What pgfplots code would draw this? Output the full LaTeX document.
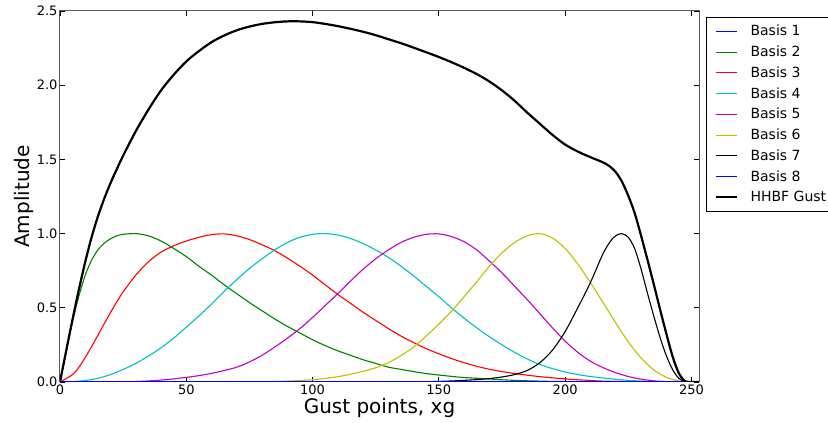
\documentclass[border=0pt]{standalone}
\usepackage{pgfplots}
\pgfplotsset{compat=1.18}
\usepackage{fontspec}
\setmainfont{DejaVu Sans}
\definecolor{cblue}{rgb}{0,0,1}
\definecolor{cgreen}{rgb}{0,0.5,0}
\definecolor{cred}{rgb}{1,0,0}
\definecolor{ccyan}{rgb}{0,0.75,0.75}
\definecolor{cmag}{rgb}{0.75,0,0.75}
\definecolor{cyel}{rgb}{0.75,0.75,0}
\begin{document}
\begin{tikzpicture}[x=1pt,y=1pt]
\path[use as bounding box] (0,0) rectangle (828,423);
\begin{axis}[
  at={(60pt,41pt)}, anchor=south west,
  scale only axis, width=639pt, height=371pt,
  xmin=0, xmax=253, ymin=0, ymax=2.5,
  xtick={0,50,100,150,200,250},
  ytick={0,0.5,1,1.5,2,2.5},
  tick align=inside, xtick pos=both, ytick pos=both,
  major tick length=5pt,
  tick style={black, line width=0.8pt},
  axis line style={black!65, line width=1pt},
  /pgf/number format/assume math mode=true,
  tick label style={font=\fontsize{13}{15}\selectfont},
  xticklabel style={yshift=1pt},
  yticklabel style={/pgf/number format/fixed, /pgf/number format/fixed zerofill, /pgf/number format/precision=1, xshift=1pt},
  xlabel={Gust points, xg}, ylabel={Amplitude},
  xlabel style={font=\fontsize{20}{24}\selectfont, at={(axis description cs:0.5,0)}, anchor=base, yshift=-32pt},
  ylabel style={font=\fontsize{20}{24}\selectfont, at={(axis description cs:-0.047,0.5)}, anchor=base},
  legend style={at={(1.011,0.984)}, anchor=north west, font=\fontsize{14}{17}\selectfont,
    draw=black, line width=0.8pt, inner xsep=8pt, inner ysep=6pt, row sep=4.6pt},
  legend cell align=left,
  legend image code/.code={\path[draw=none,fill=none] (0pt,-3pt) rectangle (33pt,3pt); \draw[#1] (0pt,0pt) -- (21pt,0pt);},
  every axis plot/.append style={line width=1.1pt},
]
\addplot[cblue] coordinates {(0,0)(253,0)};
\addplot[cgreen, smooth] coordinates {(0,0)(2.5,0.21)(5,0.41)(7.5,0.58)(10,0.72)(12.5,0.82)(15,0.89)(17.5,0.935)(20,0.965)(22.5,0.985)(25,0.995)(30,1.0)(35,0.985)(40,0.95)(45,0.90)(50,0.845)(55,0.78)(60,0.72)(65,0.655)(70,0.595)(75,0.535)(80,0.48)(85,0.425)(90,0.375)(95,0.33)(100,0.285)(105,0.245)(110,0.21)(115,0.18)(120,0.15)(125,0.125)(130,0.10)(135,0.085)(140,0.07)(145,0.057)(150,0.047)(155,0.038)(160,0.03)(165,0.025)(170,0.02)(175,0.015)(180,0.011)(185,0.008)(190,0.006)(195,0.004)(200,0.003)(210,0.001)(220,0)(253,0)};
\addplot[cred, smooth] coordinates {(0,0)(5,0.05)(7.5,0.10)(10,0.165)(12.5,0.238)(15,0.315)(17.5,0.392)(20,0.468)(22.5,0.54)(25,0.607)(30,0.72)(35,0.81)(40,0.875)(45,0.918)(50,0.95)(55,0.975)(60,0.993)(65,0.998)(70,0.985)(75,0.96)(80,0.925)(85,0.885)(90,0.835)(95,0.78)(100,0.72)(105,0.655)(110,0.59)(115,0.53)(120,0.47)(125,0.415)(130,0.36)(135,0.31)(140,0.265)(145,0.225)(150,0.19)(155,0.158)(160,0.13)(165,0.106)(170,0.086)(175,0.07)(180,0.057)(185,0.046)(190,0.036)(195,0.028)(200,0.021)(205,0.015)(210,0.01)(215,0.006)(220,0.004)(230,0.001)(240,0)(253,0)};
\addplot[ccyan, smooth] coordinates {(0,0)(5,0.002)(10,0.01)(15,0.025)(20,0.05)(25,0.085)(30,0.125)(35,0.175)(40,0.23)(45,0.295)(50,0.37)(55,0.445)(60,0.525)(65,0.61)(70,0.69)(75,0.765)(80,0.83)(85,0.89)(90,0.94)(95,0.975)(100,0.995)(105,1.0)(110,0.99)(115,0.967)(120,0.933)(125,0.89)(130,0.84)(135,0.78)(140,0.715)(145,0.645)(150,0.575)(155,0.50)(160,0.43)(165,0.365)(170,0.305)(175,0.25)(180,0.20)(185,0.155)(190,0.118)(195,0.09)(200,0.067)(205,0.05)(210,0.037)(215,0.027)(220,0.018)(225,0.011)(230,0.006)(235,0.003)(240,0.001)(245,0)(253,0)};
\addplot[cmag, smooth] coordinates {(0,0)(25,0.001)(30,0.003)(35,0.007)(40,0.013)(45,0.021)(50,0.031)(55,0.043)(60,0.058)(65,0.077)(70,0.10)(75,0.135)(80,0.18)(85,0.235)(90,0.295)(95,0.36)(100,0.435)(105,0.515)(110,0.595)(115,0.68)(120,0.76)(125,0.83)(130,0.89)(135,0.94)(140,0.975)(145,0.995)(150,0.998)(155,0.98)(160,0.945)(165,0.89)(170,0.815)(175,0.735)(180,0.645)(185,0.555)(190,0.46)(195,0.365)(200,0.275)(205,0.20)(210,0.14)(215,0.097)(220,0.063)(225,0.037)(230,0.019)(235,0.008)(240,0.002)(245,0)(253,0)};
\addplot[cyel, smooth] coordinates {(0,0)(75,0)(80,0.001)(85,0.003)(90,0.006)(95,0.01)(100,0.015)(105,0.024)(110,0.036)(115,0.052)(120,0.072)(125,0.096)(130,0.13)(135,0.178)(140,0.235)(145,0.31)(150,0.39)(155,0.477)(160,0.575)(165,0.675)(170,0.78)(175,0.87)(180,0.94)(185,0.985)(190,1.0)(195,0.97)(200,0.90)(205,0.795)(210,0.67)(215,0.535)(220,0.40)(225,0.27)(230,0.163)(235,0.083)(240,0.032)(245,0.007)(250,0)(253,0)};
\addplot[black, smooth] coordinates {(0,0)(140,0)(145,0.002)(150,0.004)(155,0.007)(160,0.011)(165,0.016)(170,0.023)(175,0.034)(180,0.05)(185,0.078)(190,0.13)(195,0.215)(200,0.34)(205,0.50)(210,0.67)(215,0.865)(218,0.95)(220,0.985)(222.4,1.0)(225,0.975)(227.5,0.90)(230,0.765)(232.5,0.605)(235,0.45)(237.5,0.305)(240,0.18)(242.5,0.085)(245,0.025)(247.5,0.002)(250,0)(253,0)};
\addplot[cblue] coordinates {(0,0)(253,0)};
\addplot[black, line width=2.2pt, smooth] coordinates {(0,0)(2.5,0.215)(5,0.425)(7.5,0.625)(10,0.81)(12.5,0.975)(15,1.115)(17.5,1.235)(20,1.34)(22.5,1.435)(25,1.525)(30,1.69)(35,1.835)(40,1.965)(45,2.07)(50,2.16)(55,2.23)(60,2.29)(65,2.335)(70,2.37)(75,2.395)(80,2.413)(85,2.424)(90,2.43)(95,2.43)(100,2.425)(105,2.413)(110,2.398)(115,2.38)(120,2.36)(125,2.337)(130,2.31)(135,2.283)(140,2.253)(145,2.222)(150,2.19)(155,2.155)(160,2.117)(165,2.075)(170,2.025)(175,1.965)(180,1.895)(185,1.815)(190,1.74)(195,1.665)(200,1.60)(205,1.553)(210,1.515)(215,1.48)(217.5,1.455)(220,1.415)(222.5,1.35)(225,1.255)(227.5,1.14)(230,0.99)(232.5,0.83)(235,0.665)(237.5,0.495)(240,0.33)(242.5,0.175)(245,0.06)(247.5,0.005)(250,0)(253,0)};
\legend{Basis 1,Basis 2,Basis 3,Basis 4,Basis 5,Basis 6,Basis 7,Basis 8,HHBF Gust}
\end{axis}
\end{tikzpicture}
\end{document}
